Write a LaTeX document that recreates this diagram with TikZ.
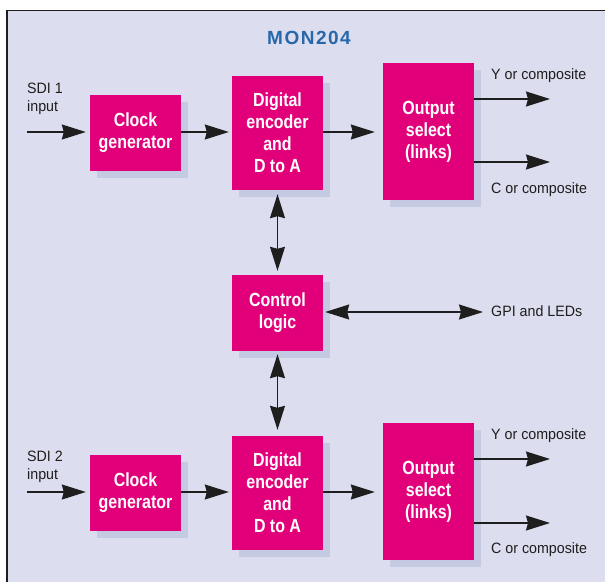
\documentclass[tikz,border=0pt]{standalone}
\usepackage{fontspec}
\setmainfont{Liberation Sans}[FakeStretch=0.95,BoldFeatures={FakeStretch=0.84}]
\newfontfamily\titlefont{Liberation Sans}[LetterSpace=8]
\usetikzlibrary{arrows.meta,shadows}
\definecolor{bg}{RGB}{220,221,238}
\definecolor{shd}{RGB}{197,202,227}
\definecolor{mag}{RGB}{226,0,122}
\definecolor{ttl}{RGB}{38,104,170}
\definecolor{ink}{RGB}{30,30,30}
\tikzset{
  blk/.style={fill=mag,text=white,align=center,inner sep=0pt,minimum width=91pt,
    font=\fontsize{19}{22}\selectfont\bfseries,
    drop shadow={shadow xshift=7pt,shadow yshift=-7pt,fill=shd,opacity=1}},
  lbl/.style={inner sep=0pt,text=ink,font=\fontsize{15}{18}\selectfont},
  arr/.style={line width=1.3pt,draw=ink,-{Stealth[length=24pt,width=15pt,inset=2pt]}},
  darr/.style={line width=1.3pt,draw=ink,
    {Stealth[length=24pt,width=15pt,inset=2pt]}-{Stealth[length=24pt,width=15pt,inset=2pt]}}
}
\begin{document}
\begin{tikzpicture}[x=1pt,y=-1pt]
\clip (0,0) rectangle (605,581);
\draw[line width=1.5pt,draw=ink,fill=bg] (7,10.5) rectangle (640,620);
\node[text=ttl,font=\titlefont\fontsize{19}{22}\selectfont\bfseries,anchor=base] (t) at (309,44) {MON204};
% upper channel
\node[blk,minimum height=76pt] (c1) at (135.5,133) {Clock\\generator};
\node[blk,minimum height=114pt] (e1) at (277.5,133) {Digital\\encoder\\and\\D to A};
\node[blk,minimum height=137pt] (o1) at (428.5,131.5) {Output\\select\\(links)};
% control
\node[blk,minimum height=76pt] (ctl) at (277.5,313) {Control\\logic};
% lower channel
\node[blk,minimum height=76pt] (c2) at (135.5,493) {Clock\\generator};
\node[blk,minimum height=114pt] (e2) at (277.5,493) {Digital\\encoder\\and\\D to A};
\node[blk,minimum height=137pt] (o2) at (428.5,491.5) {Output\\select\\(links)};
% labels
\node[lbl,align=left,anchor=north west] (s1) at (27,83) {SDI 1\\input};
\node[lbl,align=left,anchor=north west] (s2) at (27,451) {SDI 2\\input};
\node[lbl,anchor=base west] (ly1) at (491,79) {Y or composite};
\node[lbl,anchor=base west] (lc1) at (491,193) {C or composite};
\node[lbl,anchor=base west] (lg) at (491,316) {GPI and LEDs};
\node[lbl,anchor=base west] (ly2) at (491,439) {Y or composite};
\node[lbl,anchor=base west] (lc2) at (491,553) {C or composite};
% free ends
\coordinate (i1) at (27,132);
\coordinate (i2) at (27,492);
\coordinate (y1) at (550,99);
\coordinate (k1) at (550,162);
\coordinate (y2) at (550,459);
\coordinate (k2) at (550,523);
\coordinate (g) at (483,312);
% connectors
\draw[arr,shorten >=4pt] (i1) -- (c1.west|-i1);
\draw[arr,shorten >=3pt] (c1.east|-i1) -- (e1.west|-i1);
\draw[arr,shorten >=8pt] (e1.east|-i1) -- (o1.west|-i1);
\draw[arr] (o1.east|-y1) -- (y1);
\draw[arr] (o1.east|-k1) -- (k1);
\draw[arr,shorten >=4pt] (i2) -- (c2.west|-i2);
\draw[arr,shorten >=3pt] (c2.east|-i2) -- (e2.west|-i2);
\draw[arr,shorten >=8pt] (e2.east|-i2) -- (o2.west|-i2);
\draw[arr] (o2.east|-y2) -- (y2);
\draw[arr] (o2.east|-k2) -- (k2);
\draw[darr,shorten <=4pt,shorten >=4pt] (e1.south) -- (ctl.north);
\draw[darr,shorten <=3pt,shorten >=6pt] (ctl.south) -- (e2.north);
\draw[darr,shorten <=2pt] (ctl.east|-g) -- (g);
\end{tikzpicture}
\end{document}
